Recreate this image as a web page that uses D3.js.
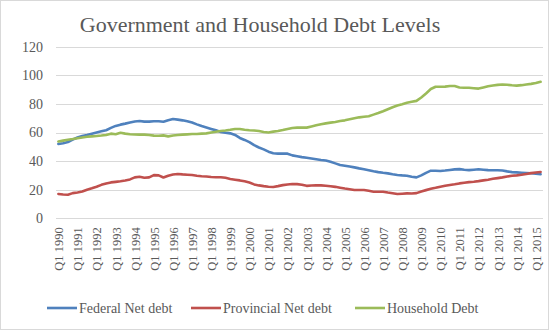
<!DOCTYPE html>
<html>
<head>
<meta charset="utf-8">
<script src="https://cdn.jsdelivr.net/npm/d3@7"></script>
<style>
  html, body { margin: 0; padding: 0; background: #fff; }
  svg { display: block; }
  text { font-family: "Liberation Serif", "DejaVu Serif", serif; fill: #595959; }
</style>
</head>
<body>
<svg id="chart" width="550" height="331"></svg>
<script>
// Quarterly debt levels, Q1 1990 – Q2 2015
const years = d3.range(1990, 2016);
const quarters = years.flatMap(y => ["Q1", "Q2", "Q3", "Q4"].map(q => q + " " + y)).slice(0, 102);
const tickLabels = quarters.filter(q => q.startsWith("Q1"));
const yTicks = [0, 20, 40, 60, 80, 100, 120];

const federal = [
  52.0, 52.5, 53.3, 55.0, 56.5, 57.6, 58.3, 59.2, 60.0, 60.8, 61.6, 63.2, 64.6, 65.5, 66.2, 67.0,
  67.7, 68.0, 67.6, 67.6, 67.9, 67.9, 67.5, 68.6, 69.4, 69.0, 68.5, 67.9, 67.0, 65.7, 64.5, 63.5,
  62.5, 61.5, 60.4, 59.8, 59.4, 58.3, 56.2, 54.8, 53.3, 51.2, 49.5, 48.2, 46.6, 45.5, 45.2, 45.2,
  45.2, 44.0, 43.4, 42.8, 42.3, 41.8, 41.3, 40.8, 40.4, 39.5, 38.4, 37.3, 36.8, 36.2, 35.6, 34.9,
  34.3, 33.6, 32.9, 32.3, 31.8, 31.4, 30.8, 30.3, 30.0, 29.8, 29.0, 28.6, 30.0, 31.8, 33.3, 33.2,
  33.1, 33.4, 33.8, 34.2, 34.4, 33.9, 33.7, 34.0, 34.3, 34.0, 33.7, 33.6, 33.6, 33.4, 32.8, 32.3,
  32.1, 31.9, 31.7, 31.5, 31.1, 30.8
];
const provincial = [
  17.0, 16.6, 16.5, 17.6, 18.1, 18.7, 20.0, 21.0, 22.1, 23.4, 24.3, 25.1, 25.5, 25.9, 26.4, 27.2,
  28.6, 29.0, 28.4, 28.6, 30.2, 30.0, 28.5, 29.8, 30.6, 31.0, 30.7, 30.5, 30.3, 29.8, 29.4, 29.2,
  28.9, 28.7, 28.7, 28.3, 27.5, 27.0, 26.5, 25.9, 25.0, 23.7, 23.0, 22.5, 22.1, 21.9, 22.5, 23.2,
  23.6, 24.0, 23.9, 23.5, 22.7, 22.9, 23.1, 23.0, 22.8, 22.4, 22.0, 21.4, 20.8, 20.3, 19.8, 19.8,
  19.8, 19.2, 18.6, 18.6, 18.6, 18.0, 17.5, 17.0, 17.2, 17.4, 17.3, 17.6, 18.8, 19.7, 20.6, 21.3,
  22.1, 22.7, 23.3, 23.8, 24.4, 24.9, 25.3, 25.6, 26.0, 26.5, 27.0, 27.6, 28.1, 28.6, 29.2, 29.7,
  30.0, 30.4, 31.0, 31.6, 32.0, 32.4
];
const household = [
  53.7, 54.3, 54.9, 55.4, 56.0, 56.5, 57.0, 57.3, 57.6, 57.9, 58.3, 59.2, 58.8, 59.8, 59.2, 58.8,
  58.6, 58.5, 58.5, 58.3, 57.8, 57.7, 58.0, 57.3, 57.9, 58.3, 58.5, 58.7, 58.9, 59.0, 59.2, 59.4,
  60.0, 60.5, 61.0, 61.4, 61.9, 62.5, 62.4, 61.9, 61.6, 61.4, 61.0, 60.4, 60.0, 60.6, 61.0, 61.7,
  62.5, 63.2, 63.4, 63.4, 63.4, 64.2, 65.0, 65.8, 66.4, 66.9, 67.4, 68.0, 68.5, 69.2, 69.9, 70.6,
  71.0, 71.4, 72.5, 73.6, 74.9, 76.3, 77.7, 78.9, 79.8, 80.8, 81.5, 82.1, 84.5, 87.3, 90.4, 92.0,
  92.0, 92.1, 92.5, 92.5, 91.5, 91.3, 91.3, 91.0, 90.7, 91.5, 92.3, 92.9, 93.3, 93.6, 93.4, 93.0,
  92.8, 93.1, 93.6, 94.0, 94.6, 95.5
];

const seriesNames = ["Federal Net debt", "Provincial Net debt", "Household Debt"];
const seriesColors = ["#4F81BD", "#C0504D", "#9BBB59"];
const seriesValues = [federal, provincial, household];

const FONT = "Liberation Serif, DejaVu Serif, serif";
const svg = d3.select("#chart");
const W = 550, H = 331;
const plot = { left: 56, right: 543, top: 46.7, bottom: 218.3 };

// outer chart border
svg.append("rect")
  .attr("x", 0.5).attr("y", 0.5).attr("width", W - 2).attr("height", H - 2)
  .attr("fill", "#fff").attr("stroke", "#d9d9d9").attr("stroke-width", 1);

const x = d3.scalePoint().domain(quarters).range([plot.left, plot.right]).padding(0.5);
const y = d3.scaleLinear().domain([0, 120]).range([plot.bottom, plot.top]);

// horizontal gridlines
svg.append("g").selectAll("line").data(yTicks).join("line")
  .attr("x1", plot.left).attr("x2", plot.right)
  .attr("y1", d => Math.round(y(d)) + 0.5).attr("y2", d => Math.round(y(d)) + 0.5)
  .attr("stroke", "#d9d9d9").attr("stroke-width", 1);

// y axis labels
const yAxis = d3.axisLeft(y).tickValues(yTicks).tickSize(0).tickPadding(0);
const gy = svg.append("g").attr("transform", `translate(43,0)`).call(yAxis)
  .attr("font-family", FONT).attr("font-size", 14);
gy.select(".domain").remove();
gy.selectAll("text").attr("fill", "#595959");

// x axis labels (quarter categories, Q1 labelled)
const xAxis = d3.axisBottom(x).tickValues(tickLabels).tickSize(0).tickPadding(0);
const gx = svg.append("g").attr("transform", `translate(0,${plot.bottom})`).call(xAxis)
  .attr("font-family", FONT).attr("font-size", 12.5);
gx.select(".domain").remove();
gx.selectAll("text")
  .attr("fill", "#595959")
  .attr("text-anchor", "end")
  .attr("transform", "rotate(-90)")
  .attr("x", -9).attr("y", 0).attr("dy", "0.35em");

// series lines
const line = d3.line().x((d, i) => x(quarters[i])).y(d => y(d)).curve(d3.curveLinear);
seriesValues.forEach((vals, k) => {
  svg.append("path").datum(vals)
    .attr("d", line)
    .attr("fill", "none")
    .attr("stroke", seriesColors[k])
    .attr("stroke-width", 2.6)
    .attr("stroke-linejoin", "round")
    .attr("stroke-linecap", "round");
});

// title
svg.append("text")
  .attr("x", 260).attr("y", 32)
  .attr("text-anchor", "middle")
  .attr("font-family", FONT)
  .style("font-size", "22px")
  .text("Government and Household Debt Levels");

// legend
const legendX = [47, 191, 355];
const lg = svg.append("g").attr("transform", "translate(0,308)").attr("font-family", FONT);
seriesNames.forEach((name, k) => {
  lg.append("line")
    .attr("x1", legendX[k]).attr("x2", legendX[k] + 30)
    .attr("y1", 0).attr("y2", 0)
    .attr("stroke", seriesColors[k]).attr("stroke-width", 2.6);
  lg.append("text")
    .attr("x", legendX[k] + 32).attr("y", 0).attr("dy", "0.35em")
    .style("font-size", "14px")
    .text(name);
});
</script>
</body>
</html>
